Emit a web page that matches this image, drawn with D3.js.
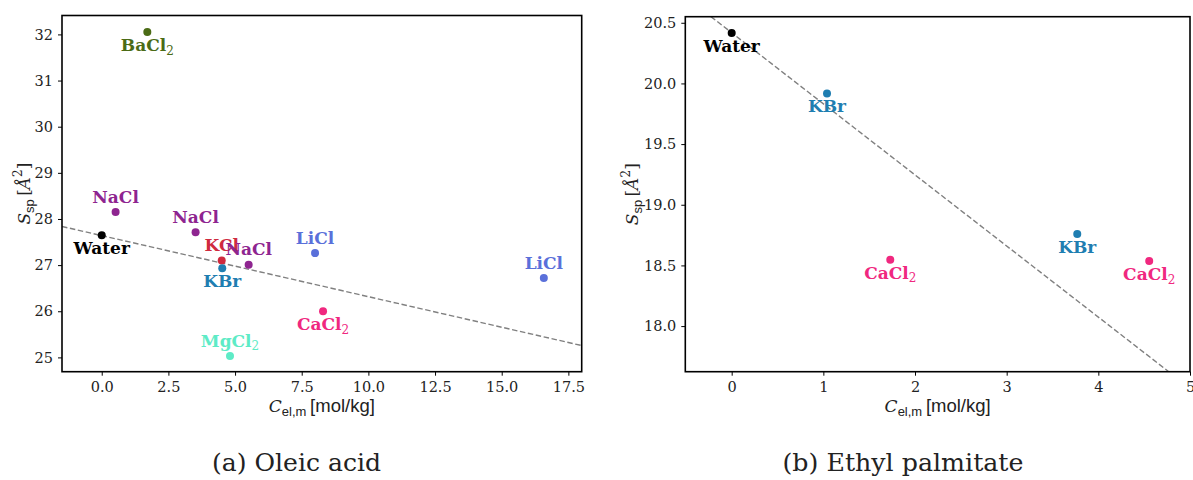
<!DOCTYPE html>
<html>
<head>
<meta charset="utf-8">
<script src="https://cdn.jsdelivr.net/npm/d3@7"></script>
<style>
body { margin: 0; background: #fff; }
svg { display: block; }
</style>
</head>
<body>
<script>
// (a) oleic acid
var oleicSalts = ["BaCl2", "NaCl", "Water", "NaCl", "KCl", "KBr", "NaCl", "MgCl2", "LiCl", "LiCl", "CaCl2"];
var oleicConc  = [1.71, 0.52, 0.0, 3.52, 4.50, 4.52, 5.51, 4.81, 8.00, 16.58, 8.30];
var oleicArea  = [32.05, 28.15, 27.65, 27.71, 27.10, 26.93, 27.01, 25.03, 27.26, 26.72, 26.00];
var oleicFit   = [27.64, -0.1324];   // intercept, slope
var oleicXTicks = [0, 2.5, 5, 7.5, 10, 12.5, 15, 17.5];
var oleicYTicks = [25, 26, 27, 28, 29, 30, 31, 32];

// (b) ethyl palmitate
var palmSalts = ["Water", "KBr", "CaCl2", "KBr", "CaCl2"];
var palmConc  = [0.0, 1.04, 1.73, 3.77, 4.555];
var palmArea  = [20.415, 19.918, 18.547, 18.759, 18.536];
var palmFit   = [20.418, -0.586];
var palmXTicks = [0, 1, 2, 3, 4, 5];
var palmYTicks = [18, 18.5, 19, 19.5, 20, 20.5];

// label placement (below the point or above it)
var oleicBelow = [true, false, true, false, false, true, false, false, false, false, true];
var palmBelow  = [true, true, true, true, true];

var saltColor = {
    "Water": "#000000",
    "BaCl2": "#4b6b16",
    "NaCl":  "#8e2590",
    "KCl":   "#cf2a3e",
    "KBr":   "#1f7eb1",
    "LiCl":  "#5a70da",
    "CaCl2": "#f0287f",
    "MgCl2": "#5eebc6"
};

var SERIF = "'DejaVu Serif', serif";
var SANS = "'Liberation Sans', 'DejaVu Sans', sans-serif";

var svg = d3.select("body").append("svg")
    .attr("width", 1193)
    .attr("height", 480);

function panel(id, salts, conc, area, fit, below, xDom, yDom, box, xTicks, yTicks, xFmt, yFmt, yLabelX) {

    var x = d3.scaleLinear().domain(xDom).range([box.left, box.right]);
    var y = d3.scaleLinear().domain(yDom).range([box.bottom, box.top]);

    svg.append("clipPath").attr("id", id)
        .append("rect")
        .attr("x", box.left).attr("y", box.top)
        .attr("width", box.right - box.left).attr("height", box.bottom - box.top);

    // fit line
    var lx = xDom;
    svg.append("line")
        .attr("clip-path", "url(#" + id + ")")
        .attr("x1", x(lx[0])).attr("y1", y(fit[0] + fit[1] * lx[0]))
        .attr("x2", x(lx[1])).attr("y2", y(fit[0] + fit[1] * lx[1]))
        .style("stroke", "#808080")
        .style("stroke-width", 1.4)
        .style("stroke-dasharray", "5.5,2.6");

    var pts = salts.map(function(s, i) { return {salt: s, c: conc[i], a: area[i], below: below[i]}; });

    svg.append("g").selectAll("circle")
        .data(pts)
        .enter().append("circle")
        .attr("cx", function(d) { return x(d.c); })
        .attr("cy", function(d) { return y(d.a); })
        .attr("r", 4)
        .style("fill", function(d) { return saltColor[d.salt]; });

    var lab = svg.append("g").selectAll("text")
        .data(pts)
        .enter().append("text")
        .attr("x", function(d) { return x(d.c); })
        .attr("y", function(d) { return y(d.a) + (d.below ? 19 : -9.5); })
        .attr("text-anchor", "middle")
        .style("font-family", SERIF)
        .style("font-weight", "bold")
        .style("font-size", "17px")
        .style("fill", function(d) { return saltColor[d.salt]; });

    lab.each(function(d) {
        var t = d3.select(this);
        var m = d.salt.match(/^(.*?)(\d*)$/);
        t.append("tspan").text(m[1]);
        if (m[2]) {
            t.append("tspan")
                .attr("dy", "0.3em")
                .style("font-size", "12px")
                .style("font-weight", "normal")
                .text(m[2]);
        }
    });

    // axes
    var gx = svg.append("g")
        .attr("transform", "translate(0," + box.bottom + ")")
        .call(d3.axisBottom(x).tickValues(xTicks).tickSize(4).tickPadding(6).tickFormat(d3.format(xFmt)));
    var gy = svg.append("g")
        .attr("transform", "translate(" + box.left + ",0)")
        .call(d3.axisLeft(y).tickValues(yTicks).tickSize(4).tickPadding(5).tickFormat(d3.format(yFmt)));

    [gx, gy].forEach(function(g) {
        g.attr("font-family", null).attr("font-size", null);
        g.select(".domain").remove();
        g.selectAll("line").style("stroke", "#000").style("stroke-width", 1);
        g.selectAll("text")
            .style("font-family", SERIF)
            .style("font-size", "14.5px")
            .style("fill", "#222");
    });

    // frame
    svg.append("rect")
        .attr("x", box.left).attr("y", box.top)
        .attr("width", box.right - box.left).attr("height", box.bottom - box.top)
        .style("fill", "none")
        .style("stroke", "#000")
        .style("stroke-width", 1.6);

    // x label
    var xl = svg.append("text")
        .attr("x", (box.left + box.right) / 2)
        .attr("y", 412)
        .attr("text-anchor", "middle")
        .style("fill", "#222");
    xl.append("tspan").style("font-family", SERIF).style("font-style", "italic").style("font-size", "17px").text("C");
    xl.append("tspan").attr("dy", 4).style("font-family", SANS).style("font-size", "13px").text("el,m");
    xl.append("tspan").attr("dy", -4).style("font-family", SANS).style("font-size", "18.5px").text("\u2009[mol/kg]");

    // y label
    var yl = svg.append("text")
        .attr("transform", "translate(" + yLabelX + "," + ((box.top + box.bottom) / 2) + ") rotate(-90)")
        .attr("text-anchor", "middle")
        .style("font-family", SERIF)
        .style("font-size", "17px")
        .style("fill", "#222");
    yl.append("tspan").style("font-style", "italic").text("S");
    yl.append("tspan").attr("dy", 4).style("font-family", SANS).style("font-size", "13px").text("sp");
    yl.append("tspan").attr("dy", -4).text("\u2009[");
    yl.append("tspan").style("font-style", "italic").text("\u00C5");
    yl.append("tspan").attr("dy", -8).style("font-size", "12px").text("2");
    yl.append("tspan").attr("dy", 8).text("]");
}

panel("clipA", oleicSalts, oleicConc, oleicArea, oleicFit, oleicBelow,
    [-1.49, 18.0], [24.69, 32.41],
    {left: 62, right: 581.7, top: 15.5, bottom: 371.7},
    oleicXTicks, oleicYTicks, ".1f", "d", 30);

panel("clipB", palmSalts, palmConc, palmArea, palmFit, palmBelow,
    [-0.506, 5.0], [17.624, 20.55],
    {left: 685.3, right: 1190, top: 16.7, bottom: 371.7},
    palmXTicks, palmYTicks, "d", ".1f", 638);

// captions
svg.append("text")
    .attr("x", 296.5).attr("y", 471)
    .attr("text-anchor", "middle")
    .attr("textLength", 169).attr("lengthAdjust", "spacingAndGlyphs")
    .style("font-family", SERIF)
    .style("font-size", "25px")
    .style("fill", "#222")
    .text("(a) Oleic acid");

svg.append("text")
    .attr("x", 903).attr("y", 471)
    .attr("text-anchor", "middle")
    .attr("textLength", 241).attr("lengthAdjust", "spacingAndGlyphs")
    .style("font-family", SERIF)
    .style("font-size", "25px")
    .style("fill", "#222")
    .text("(b) Ethyl palmitate");
</script>
</body>
</html>
